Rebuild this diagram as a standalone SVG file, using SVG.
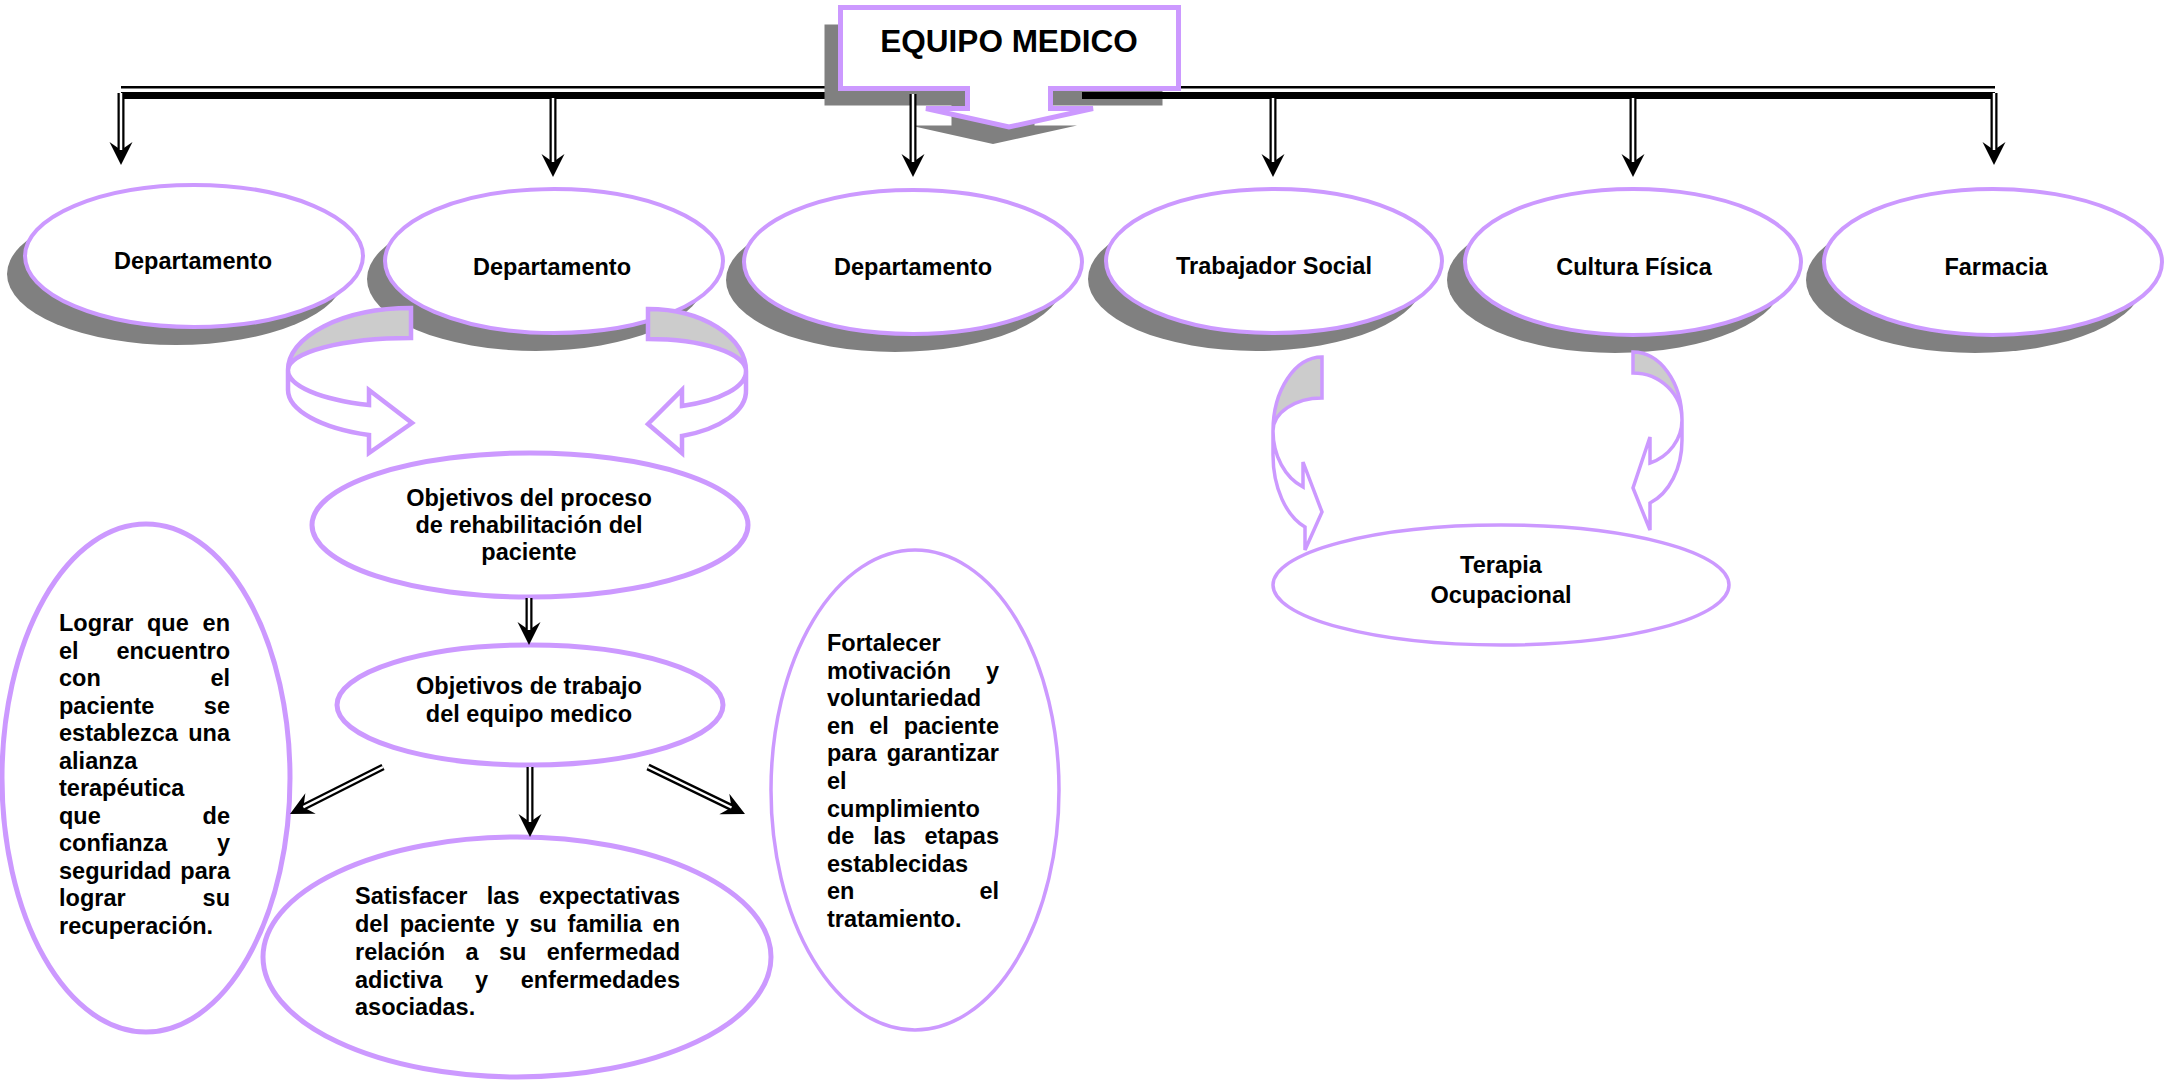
<svg xmlns="http://www.w3.org/2000/svg" width="2176" height="1080" viewBox="0 0 2176 1080">
<defs>
<style>
text{font-family:"Liberation Sans",Arial,sans-serif;font-weight:bold;fill:#000;font-size:23.5px}
.c{text-anchor:middle}
.e{text-anchor:end}
.title{font-size:31.5px}
.shadow{fill:#808080;stroke:none}
.node{fill:#fff;stroke:#CC99FF;stroke-width:4}
.node5{fill:#fff;stroke:#CC99FF;stroke-width:5}
.node3{fill:#fff;stroke:#CC99FF;stroke-width:3.5}
.band{fill:#CCCCCC;stroke:#CC99FF;stroke-width:4.5;stroke-linejoin:miter}
.front{fill:#fff;stroke:#CC99FF;stroke-width:4.5;stroke-linejoin:miter}
.band3{fill:#CCCCCC;stroke:#CC99FF;stroke-width:3.5}
.front3{fill:#fff;stroke:#CC99FF;stroke-width:3.5}
.dblo{stroke:#000;stroke-width:7;fill:none;marker-end:url(#head)}
.dbli{stroke:#fff;stroke-width:2.5;fill:none}
.bar{fill:#000}
</style>
<marker id="head" viewBox="-10 -13 27 26" markerWidth="27" markerHeight="26" refX="0" refY="0" orient="auto" markerUnits="userSpaceOnUse">
<path d="M15 0 L-8 -11.5 L0 0 L-8 11.5 Z" fill="#000"/>
</marker>
</defs>
<rect width="2176" height="1080" fill="#fff"/>

<!-- bar left part (under EQUIPO shadow) -->
<g id="bar-left">
<rect class="bar" x="121" y="86" width="760" height="2.5"/>
<rect class="bar" x="121" y="92" width="760" height="7"/>
</g>

<g id="equipo-medico">
<path class="shadow" transform="translate(-16,17)" stroke="#808080" stroke-width="5" d="M840.5 7.5 L1178.5 7.5 L1178.5 88.5 L1050.5 88.5 L1050.5 108.5 L1093 108.5 L1009 127 L926 108.5 L967.5 108.5 L967.5 88.5 L840.5 88.5 Z"/>
<rect class="bar" x="1082" y="92" width="913" height="7"/>
<rect class="bar" x="1181" y="86" width="814" height="2.5"/>
<path class="node5" d="M840.5 7.5 L1178.5 7.5 L1178.5 88.5 L1050.5 88.5 L1050.5 108.5 L1093 108.5 L1009 127 L926 108.5 L967.5 108.5 L967.5 88.5 L840.5 88.5 Z"/>
<text class="c title" x="1009" y="52">EQUIPO MEDICO</text>
</g>

<g id="departamento-1">
<ellipse class="shadow" cx="176" cy="274" rx="169" ry="71"/>
<ellipse class="node" cx="194" cy="256" rx="169" ry="71"/>
<text class="c" x="193" y="269">Departamento</text>
</g>
<g id="departamento-2">
<ellipse class="shadow" cx="536" cy="279" rx="169" ry="72"/>
<ellipse class="node" cx="554" cy="261" rx="169" ry="72"/>
<text class="c" x="552" y="275">Departamento</text>
</g>
<g id="departamento-3">
<ellipse class="shadow" cx="895" cy="280" rx="169" ry="72"/>
<ellipse class="node" cx="913" cy="262" rx="169" ry="72"/>
<text class="c" x="913" y="275">Departamento</text>
</g>
<g id="trabajador-social">
<ellipse class="shadow" cx="1256" cy="279" rx="168" ry="72"/>
<ellipse class="node" cx="1274" cy="261" rx="168" ry="72"/>
<text class="c" x="1274" y="274">Trabajador Social</text>
</g>
<g id="cultura-fisica">
<ellipse class="shadow" cx="1615" cy="280" rx="168" ry="73"/>
<ellipse class="node" cx="1633" cy="262" rx="168" ry="73"/>
<text class="c" x="1634" y="275">Cultura Física</text>
</g>
<g id="farmacia">
<ellipse class="shadow" cx="1975" cy="280" rx="169" ry="73"/>
<ellipse class="node" cx="1993" cy="262" rx="169" ry="73"/>
<text class="c" x="1996" y="275">Farmacia</text>
</g>

<g id="objetivos-proceso">
<ellipse class="node5" cx="530" cy="525" rx="218" ry="72"/>
<text class="c" x="529" y="506">Objetivos del proceso</text>
<text class="c" x="529" y="533">de rehabilitación del</text>
<text class="c" x="529" y="560">paciente</text>
</g>

<g id="objetivos-trabajo">
<ellipse class="node5" cx="530" cy="705" rx="193" ry="60"/>
<text class="c" x="529" y="694">Objetivos de trabajo</text>
<text class="c" x="529" y="722">del equipo medico</text>
</g>

<g id="terapia-ocupacional">
<ellipse class="node3" cx="1501" cy="585" rx="228" ry="60"/>
<text class="c" x="1501" y="573">Terapia</text>
<text class="c" x="1501" y="603">Ocupacional</text>
</g>

<g id="lograr">
<ellipse class="node5" cx="146" cy="778" rx="144" ry="254"/>
<text x="59" y="631">Lograr</text><text x="147" y="631">que</text><text class="e" x="230" y="631">en</text>
<text x="59" y="658.5">el</text><text class="e" x="230" y="658.5">encuentro</text>
<text x="59" y="686">con</text><text class="e" x="230" y="686">el</text>
<text x="59" y="713.5">paciente</text><text class="e" x="230" y="713.5">se</text>
<text x="59" y="741">establezca</text><text class="e" x="230" y="741">una</text>
<text x="59" y="768.5">alianza</text>
<text x="59" y="796">terapéutica</text>
<text x="59" y="823.5">que</text><text class="e" x="230" y="823.5">de</text>
<text x="59" y="851">confianza</text><text class="e" x="230" y="851">y</text>
<text x="59" y="878.5">seguridad</text><text class="e" x="230" y="878.5">para</text>
<text x="59" y="906">lograr</text><text class="e" x="230" y="906">su</text>
<text x="59" y="933.5">recuperación.</text>
</g>

<g id="satisfacer">
<ellipse class="node5" cx="517" cy="957" rx="254" ry="120"/>
<text x="355" y="904">Satisfacer</text><text x="486.8" y="904">las</text><text class="e" x="680" y="904">expectativas</text>
<text x="355" y="932">del</text><text x="399.7" y="932">paciente</text><text x="505.7" y="932">y</text><text x="529.5" y="932">su</text><text x="567.6" y="932">familia</text><text class="e" x="680" y="932">en</text>
<text x="355" y="960">relación</text><text x="465.5" y="960">a</text><text x="499" y="960">su</text><text class="e" x="680" y="960">enfermedad</text>
<text x="355" y="988">adictiva</text><text x="475.1" y="988">y</text><text class="e" x="680" y="988">enfermedades</text>
<text x="355" y="1015">asociadas.</text>
</g>

<g id="fortalecer">
<ellipse class="node3" cx="915" cy="790" rx="144" ry="240"/>
<text x="827" y="651">Fortalecer</text>
<text x="827" y="678.6">motivación</text><text class="e" x="999" y="678.6">y</text>
<text x="827" y="706.2">voluntariedad</text>
<text x="827" y="733.8">en</text><text x="869.3" y="733.8">el</text><text class="e" x="999" y="733.8">paciente</text>
<text x="827" y="761.4">para</text><text class="e" x="999" y="761.4">garantizar</text>
<text x="827" y="789">el</text>
<text x="827" y="816.6">cumplimiento</text>
<text x="827" y="844.2">de</text><text x="873.2" y="844.2">las</text><text class="e" x="999" y="844.2">etapas</text>
<text x="827" y="871.8">establecidas</text>
<text x="827" y="899.4">en</text><text class="e" x="999" y="899.4">el</text>
<text x="827" y="927">tratamiento.</text>
</g>

<g id="connectors">
<line class="dblo" x1="121" y1="93" x2="121" y2="150"/><line class="dbli" x1="121" y1="93" x2="121" y2="150"/>
<line class="dblo" x1="553" y1="98" x2="553" y2="162"/><line class="dbli" x1="553" y1="98" x2="553" y2="162"/>
<line class="dblo" x1="913" y1="94" x2="913" y2="162"/><line class="dbli" x1="913" y1="94" x2="913" y2="162"/>
<line class="dblo" x1="1273" y1="98" x2="1273" y2="162"/><line class="dbli" x1="1273" y1="98" x2="1273" y2="162"/>
<line class="dblo" x1="1633" y1="98" x2="1633" y2="162"/><line class="dbli" x1="1633" y1="98" x2="1633" y2="162"/>
<line class="dblo" x1="1994" y1="93" x2="1994" y2="150"/><line class="dbli" x1="1994" y1="93" x2="1994" y2="150"/>
<line class="dblo" x1="529" y1="598" x2="529" y2="630"/><line class="dbli" x1="529" y1="598" x2="529" y2="630"/>
<line class="dblo" x1="530" y1="767" x2="530" y2="822"/><line class="dbli" x1="530" y1="767" x2="530" y2="822"/>
<line class="dblo" x1="383" y1="767" x2="303.4" y2="807.2"/><line class="dbli" x1="383" y1="767" x2="303.4" y2="807.2"/>
<line class="dblo" x1="648" y1="767" x2="731.5" y2="807.5"/><line class="dbli" x1="648" y1="767" x2="731.5" y2="807.5"/>

<g id="curved-left">
<path class="front" d="M288 370 L288 390 A123 48 0 0 0 369 435 L369 453 L412 423 L369 390 L369 405 A123 37 0 0 1 288 370 Z"/>
<path class="band" d="M411 308 A123 62 0 0 0 288 370 A123 32 0 0 1 411 338 Z"/>
</g>
<g id="curved-right">
<path class="front" d="M746 371 L746 390 A98 48 0 0 1 682 436 L682 453 L648 424 L682 390 L682 406 A98 37 0 0 0 746 371 Z"/>
<path class="band" d="M648 309 A98 62 0 0 1 746 371 A98 32 0 0 0 648 339 Z"/>
</g>
<g id="curved-ts">
<path class="front3" d="M1273 431 L1273 455 A49 77 0 0 0 1305 527 L1305 550 L1322 512 L1303 462 L1303 487 A49 61 0 0 1 1273 431 Z"/>
<path class="band3" d="M1322 357 A49 74 0 0 0 1273 431 A49 33 0 0 1 1322 398 Z"/>
</g>
<g id="curved-cf">
<path class="front3" d="M1682 420 L1682 440 A49 67 0 0 1 1650 503 L1650 530 L1633 488 L1650 437 L1650 463 A49 46 0 0 0 1682 420 Z"/>
<path class="band3" d="M1633 352 A49 68 0 0 1 1682 420 A49 47 0 0 0 1633 373 Z"/>
</g>
</g>
</svg>
